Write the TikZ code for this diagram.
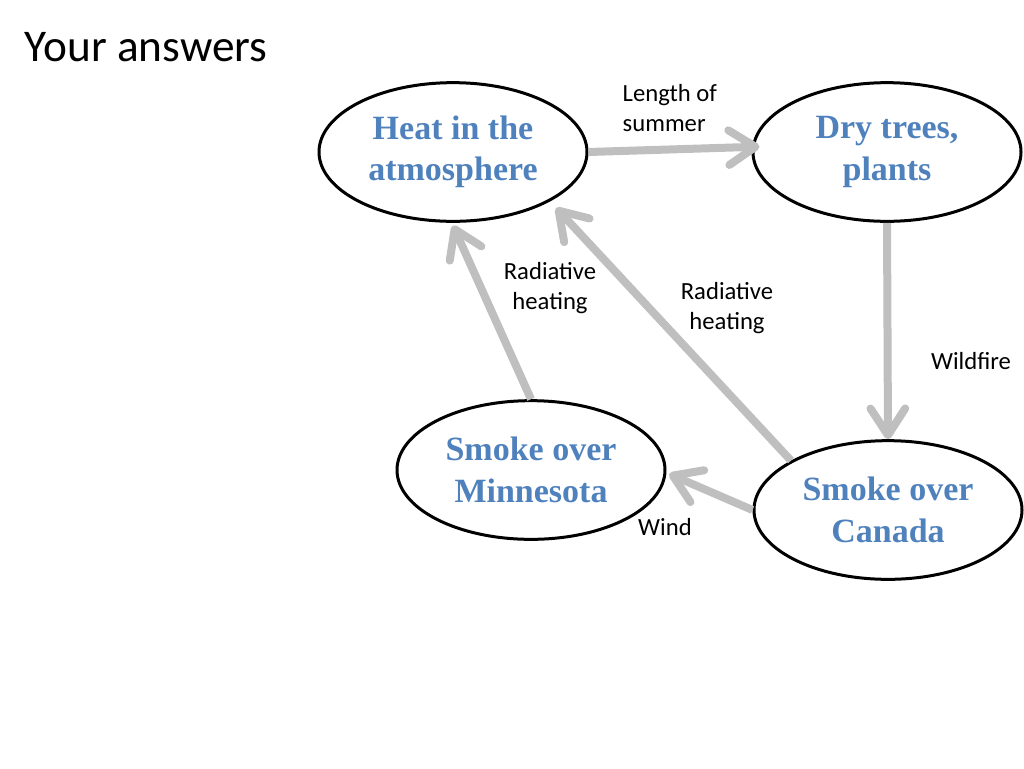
\documentclass[tikz,border=0pt]{standalone}
\usepackage{fontspec}
\setmainfont{Carlito}
\newfontfamily\ovalfont{Liberation Serif}
\usepackage{xcolor}
\usepackage{tikz}
\usetikzlibrary{shapes.geometric,arrows.meta}
\definecolor{ovaltext}{HTML}{4F81BD}
\definecolor{flowgray}{HTML}{BFBFBF}

\begin{document}
\begin{tikzpicture}[
  x=0.75pt, y=-0.75pt,
  oval/.style={ellipse, draw, line width=2.25pt, minimum width=201pt, minimum height=104pt,
    inner sep=0pt, align=center, text=ovaltext,
    font=\ovalfont\bfseries\fontsize{25.5pt}{31pt}\selectfont},
  flow/.style={draw=flowgray, line width=6pt,
    -{Straight Barb[length=20pt,width=26pt,round]}},
  note/.style={align=center, font=\fontsize{18.5pt}{22.5pt}\selectfont}
]
  \useasboundingbox (0,0) rectangle (1024,768);
  \node[anchor=base west, font=\fontsize{34pt}{40pt}\selectfont] (title) at (20,61) {Your answers};

  \node[oval] (heat) at (453,152) {Heat in the\\atmosphere};
  \node[oval] (dry) at (887,152) {Dry trees,\\plants};
  \node[oval] (mnsmoke) at (531,470) {Smoke over\\Minnesota};
  \node[oval] (cnsmoke) at (888,510) {Smoke over\\Canada};

  \draw[flow] (heat.east) -- ([xshift=6pt,yshift=4pt]dry.west);
  \draw[flow] (dry.south) -- (cnsmoke.north);
  \draw[flow] (cnsmoke.west) -- ([xshift=2pt,yshift=-3pt]mnsmoke.east);
  \draw[flow] (cnsmoke.153) -- ([shift={(6pt,-4pt)}]heat.-28);
  \draw[flow] (mnsmoke.north) -- ([yshift=-2pt]heat.south);

  \node[note, anchor=west, align=left] (lensummer) at (618,108) {Length of\\summer};
  \node[note] (radleft) at (550,288) {Radiative\\heating};
  \node[note] (radright) at (727,308) {Radiative\\heating};
  \node[note] (wildfire) at (971,361) {Wildfire};
  \node[note] (wind) at (665,527) {Wind};
\end{tikzpicture}
\end{document}
